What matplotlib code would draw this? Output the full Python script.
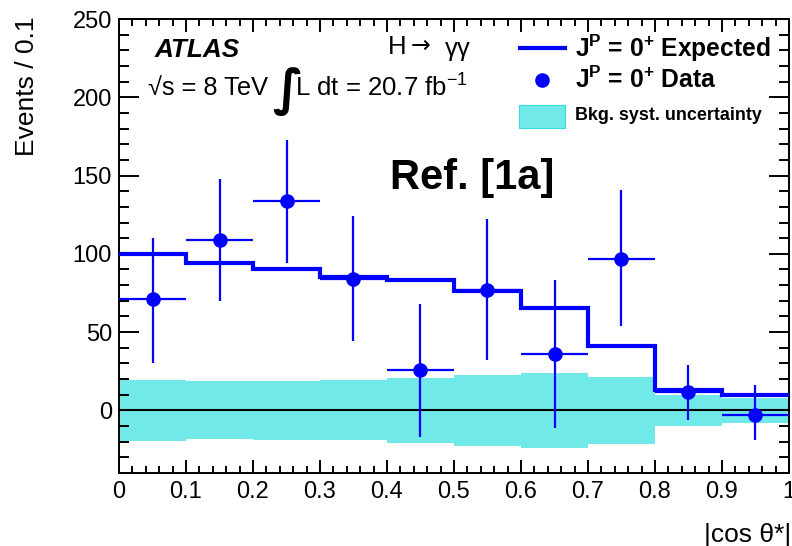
import numpy as np
import matplotlib
matplotlib.use("Agg")
import matplotlib.pyplot as plt
from matplotlib.lines import Line2D
from matplotlib.patches import Rectangle

plt.rcParams['font.family'] = ['Liberation Sans', 'DejaVu Sans']
plt.rcParams['mathtext.fontset'] = 'custom'
plt.rcParams['mathtext.rm'] = 'Liberation Sans'
plt.rcParams['mathtext.bf'] = 'Liberation Sans:bold'
plt.rcParams['mathtext.it'] = 'Liberation Sans:italic'

# |cos theta*| binning
bin_edges = [0.0, 0.1, 0.2, 0.3, 0.4, 0.5, 0.6, 0.7, 0.8, 0.9, 1.0]
bin_centers = [0.05, 0.15, 0.25, 0.35, 0.45, 0.55, 0.65, 0.75, 0.85, 0.95]

# Expected 0+ signal yield per bin
expected = [100, 94, 90, 85, 83.5, 76, 65.5, 41, 13, 10]

# Background-subtracted data and its uncertainties
data = [71, 109, 134, 84, 26, 77, 36, 97, 12, -3]
data_err_up = [39, 39, 39, 40, 42, 45, 47, 44, 17, 19]
data_err_dn = [41, 39, 40, 40, 43, 45, 47, 43, 18, 16]

# Background systematic uncertainty band (symmetric about zero)
bkg_syst = [19.5, 18.5, 18.7, 19.2, 20.8, 22.5, 24.0, 21.4, 9.9, 7.8]

band_color = '#72e9e9'
blue = '#0000ff'

fig = plt.figure(figsize=(7.92, 5.46), dpi=100)
ax = fig.add_axes([119/792, 1-473/546, 670/792, 454/546])

# systematic band
ax.bar(bin_centers, [2*b for b in bkg_syst], bottom=[-b for b in bkg_syst],
       width=0.1, color=band_color, edgecolor='none', zorder=1)

# zero line
ax.axhline(0, color='black', lw=1.5, zorder=2)

# expected step histogram
ax.stairs(expected, bin_edges, color=blue, lw=3, baseline=None, zorder=3)

# data points with error bars
ax.errorbar(bin_centers, data, yerr=[data_err_dn, data_err_up], xerr=0.05,
            fmt='o', color=blue, ms=9.5, elinewidth=1.6, capsize=0, zorder=4)

ax.set_xlim(0, 1)
ax.set_ylim(-40, 250)
ax.set_xticks(np.arange(0, 1.01, 0.1))
ax.set_xticklabels(['0', '0.1', '0.2', '0.3', '0.4', '0.5', '0.6', '0.7', '0.8', '0.9', '1'])
ax.set_xticks(np.arange(0, 1.001, 0.02), minor=True)
ax.set_yticks([0, 50, 100, 150, 200, 250])
ax.set_yticks(np.arange(-40, 251, 10), minor=True)

for s in ax.spines.values():
    s.set_linewidth(1.4)

ax.tick_params(axis='both', which='both', direction='in', top=True, right=True,
               width=1.4, labelsize=17)
ax.tick_params(axis='x', which='major', length=9.5, pad=6)
ax.tick_params(axis='x', which='minor', length=5)
ax.tick_params(axis='y', which='major', length=14.5, pad=5)
ax.tick_params(axis='y', which='minor', length=7.2)

def fx(px):
    return (px - 119) / 670

def fy(py):
    return (473 - py) / 454

# experiment labels
ax.text(fx(155), fy(50), 'ATLAS', fontsize=18.8, fontweight='bold', fontstyle='italic',
        transform=ax.transAxes, va='center', ha='left')
ax.text(fx(388), fy(47), 'H', fontsize=18.5, transform=ax.transAxes,
        va='center', ha='left')
ax.text(fx(411), fy(46), '→', fontsize=17, transform=ax.transAxes,
        va='center', ha='left', family=['DejaVu Sans'])
ax.text(fx(445), fy(49), 'γγ', fontsize=18.5, transform=ax.transAxes,
        va='center', ha='left')
ax.text(fx(148), fy(88), '√s = 8 TeV', fontsize=18.3, transform=ax.transAxes,
        va='center', ha='left')
ax.text(fx(272), fy(92), '∫', fontsize=36, transform=ax.transAxes,
        va='center', ha='left', family=['DejaVu Sans'], fontweight='bold')
ax.text(fx(295), fy(88), r'L dt = 20.7 fb$^{\mathregular{-1}}$', fontsize=18.5,
        transform=ax.transAxes, va='center', ha='left')

ax.text(fx(390), fy(178), 'Ref. [1a]', fontsize=30, fontweight='bold',
        transform=ax.transAxes, va='center', ha='left')

# legend
ax.add_line(Line2D([fx(520), fx(565)], [fy(48), fy(48)], color=blue, lw=3,
                   transform=ax.transAxes, clip_on=False))
ax.add_line(Line2D([fx(542)], [fy(80)], color=blue, marker='o', ms=9.5, ls='none',
                   transform=ax.transAxes, clip_on=False))
ax.add_patch(Rectangle((fx(519), fy(128)), fx(565) - fx(519), fy(105) - fy(128),
                       facecolor=band_color, edgecolor='#33dddd', lw=0.8,
                       transform=ax.transAxes))
ax.text(fx(575), fy(48), r'$\mathbf{J^{P}}$ = $\mathbf{0^{+}}$ Expected', fontsize=17.7,
        fontweight='bold', transform=ax.transAxes, va='center', ha='left')
ax.text(fx(575), fy(80), r'$\mathbf{J^{P}}$ = $\mathbf{0^{+}}$ Data', fontsize=17.7,
        fontweight='bold', transform=ax.transAxes, va='center', ha='left')
ax.text(fx(575), fy(116), 'Bkg. syst. uncertainty', fontsize=12.9,
        fontweight='bold', transform=ax.transAxes, va='center', ha='left')

# axis titles
fig.text(27/792, 1 - 16/546, 'Events / 0.1', rotation=90, fontsize=19,
         va='top', ha='center')
fig.text(791/792, 1 - 535/546, '|cos θ*|', fontsize=19, va='center', ha='right')

fig.savefig('out.png', dpi=100)
